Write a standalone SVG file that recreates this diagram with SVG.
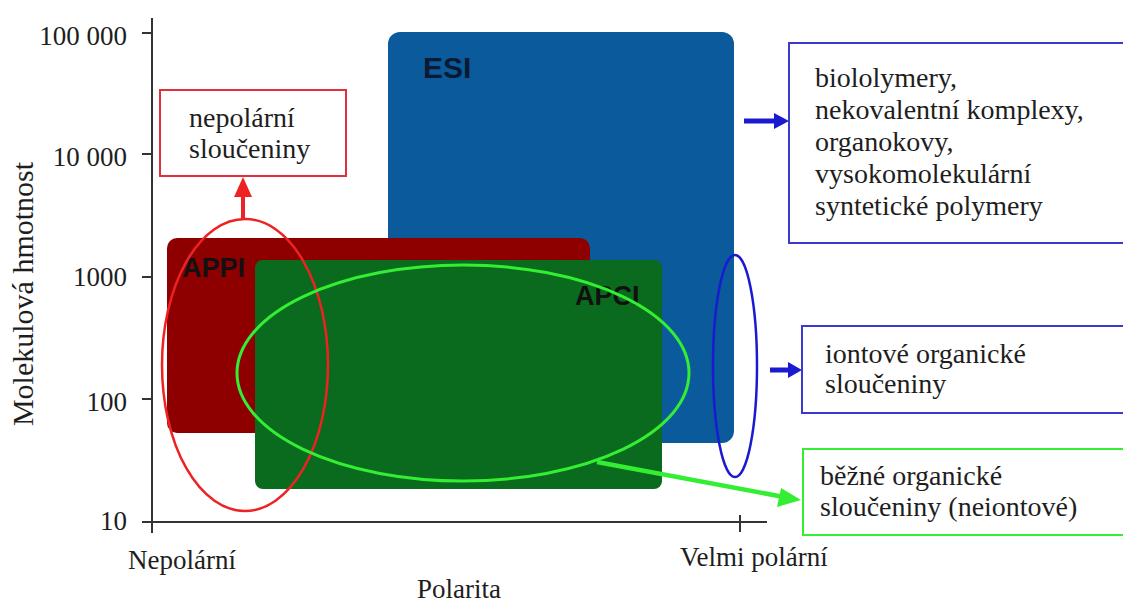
<svg xmlns="http://www.w3.org/2000/svg" width="1123" height="604" viewBox="0 0 1123 604">
<style>
.t{font-family:"Liberation Serif","Times New Roman",serif;font-size:27px;fill:#1e1e1e}
.b{font-size:28px}
.lab{font-family:"Liberation Sans",Arial,sans-serif;font-weight:bold;fill:#111}
.ax{stroke:#333;stroke-width:2;fill:none}
</style>
<rect width="1123" height="604" fill="#fff"/>
<g id="axes">
<line class="ax" x1="152" y1="18" x2="152" y2="533"/>
<line class="ax" x1="145" y1="522" x2="767" y2="522"/>
<line class="ax" x1="142" y1="33" x2="152" y2="33"/>
<line class="ax" x1="142" y1="154" x2="152" y2="154"/>
<line class="ax" x1="142" y1="277" x2="152" y2="277"/>
<line class="ax" x1="142" y1="399" x2="152" y2="399"/>
<line class="ax" x1="142" y1="522" x2="152" y2="522"/>
<line class="ax" x1="740" y1="515" x2="740" y2="532"/>
<g class="t" text-anchor="end">
<text x="127" y="45">100 000</text>
<text x="127" y="166">10 000</text>
<text x="127" y="286">1000</text>
<text x="127" y="411">100</text>
<text x="127" y="530">10</text>
</g>
<text class="t" x="128" y="569">Nepolární</text>
<text class="t" x="680" y="566">Velmi polární</text>
<text class="t" x="417" y="598">Polarita</text>
<text class="t" style="font-size:30px" text-anchor="middle" transform="translate(33,294) rotate(-90)">Molekulová hmotnost</text>
</g>
<g id="esi">
<rect x="388" y="32" width="346" height="411" rx="12" fill="#0a5a9c"/>
<text class="lab" x="423" y="78" font-size="30" style="fill:#0b1a33">ESI</text>
</g>
<g id="appi">
<rect x="167" y="238" width="423" height="195" rx="10" fill="#8e0000"/>
<text class="lab" x="182" y="277" font-size="27">APPI</text>
</g>
<g id="apci">
<rect x="255" y="260" width="407" height="229" rx="8" fill="#0a6a1e"/>
<text class="lab" x="575" y="305" font-size="27">APCI</text>
</g>
<g id="ellipses" fill="none">
<ellipse cx="245" cy="365" rx="83" ry="146" stroke="#ee2222" stroke-width="2.5"/>
<ellipse cx="463" cy="373" rx="226" ry="108" stroke="#33ee33" stroke-width="3"/>
<ellipse cx="735" cy="366" rx="22" ry="111" stroke="#1a1ad0" stroke-width="2.5"/>
</g>
<g id="connectors">
<line x1="243" y1="219" x2="243" y2="195" stroke="#ee2222" stroke-width="4"/>
<polygon points="243,177 234,197 252,197" fill="#ee2222"/>
<line x1="744" y1="121" x2="776" y2="121" stroke="#1a1ad0" stroke-width="5"/>
<polygon points="789,121 774,113 774,129" fill="#1a1ad0"/>
<line x1="770" y1="370" x2="790" y2="370" stroke="#1a1ad0" stroke-width="5"/>
<polygon points="802,370 788,362 788,378" fill="#1a1ad0"/>
<line x1="597" y1="462" x2="784" y2="497" stroke="#33ee33" stroke-width="4.5"/>
<polygon points="801,500 781,488 777,507" fill="#33ee33"/>
</g>
<g id="box-nepolarni">
<rect x="160" y="90" width="186" height="86" fill="#fff" stroke="#e03040" stroke-width="2"/>
<text class="t b" x="189" y="127">nepolární</text>
<text class="t b" x="189" y="158">sloučeniny</text>
</g>
<g id="box-biopolymery">
<rect x="789" y="43" width="345" height="200" fill="#fff" stroke="#3a3ad0" stroke-width="2"/>
<text class="t b" x="815" y="87">biololymery,</text>
<text class="t b" x="815" y="119">nekovalentní komplexy,</text>
<text class="t b" x="815" y="151">organokovy,</text>
<text class="t b" x="815" y="183">vysokomolekulární</text>
<text class="t b" x="815" y="215">syntetické polymery</text>
</g>
<g id="box-iontove">
<rect x="802" y="326" width="332" height="87" fill="#fff" stroke="#3a3ad0" stroke-width="2"/>
<text class="t b" x="825" y="363">iontové organické</text>
<text class="t b" x="825" y="393">sloučeniny</text>
</g>
<g id="box-bezne">
<rect x="803" y="449" width="331" height="86" fill="#fff" stroke="#33ee33" stroke-width="2"/>
<text class="t b" x="820" y="485">běžné organické</text>
<text class="t b" x="820" y="516">sloučeniny (neiontové)</text>
</g>
</svg>
